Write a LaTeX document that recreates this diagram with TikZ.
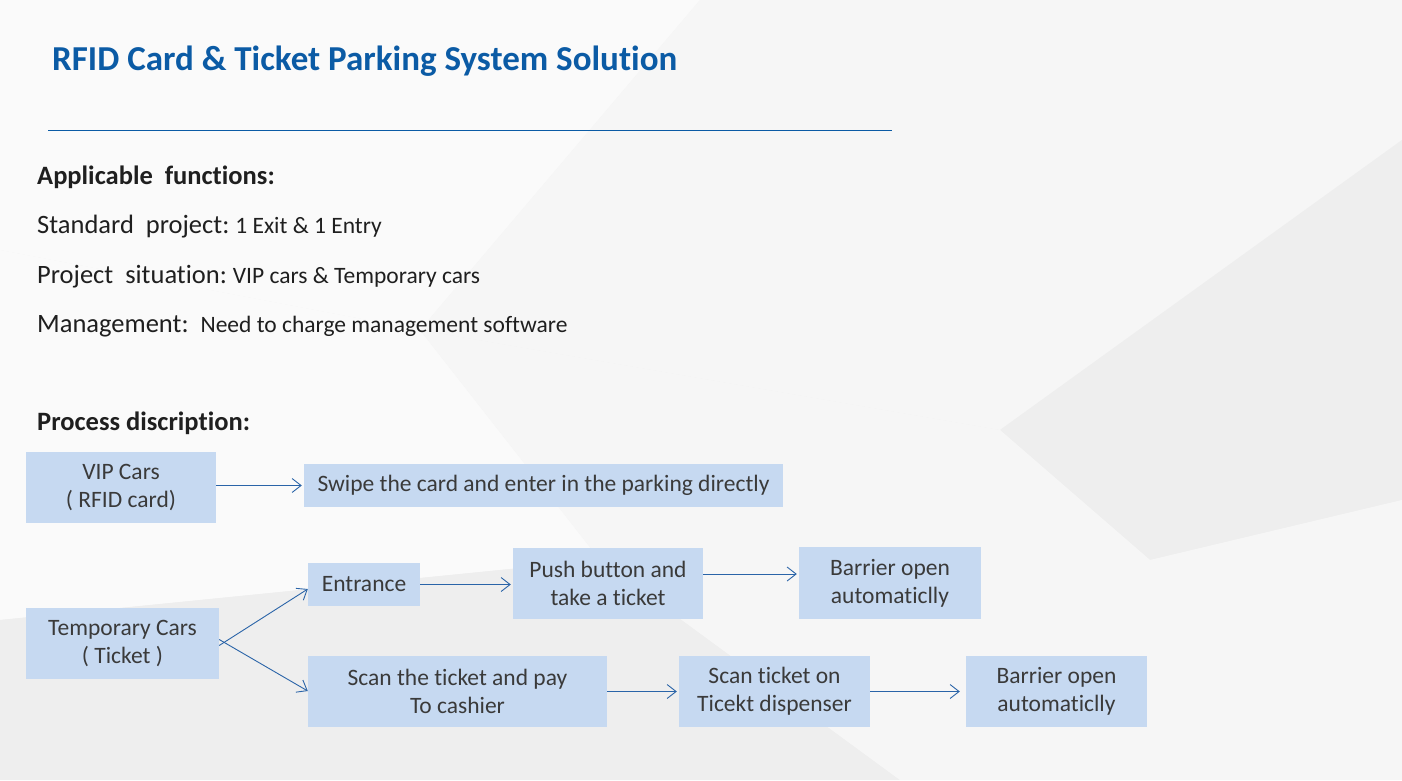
\documentclass[tikz,border=0pt]{standalone}
\usepackage{fontspec}
\setmainfont{Carlito}[Ligatures=NoCommon]
\usetikzlibrary{arrows.meta}
\definecolor{bg}{HTML}{F3F3F3}
\definecolor{facet}{HTML}{FAFAFA}
\definecolor{facetm}{HTML}{F6F6F6}
\definecolor{facetd}{HTML}{EEEEEE}
\definecolor{boxfill}{HTML}{C6D9F1}
\definecolor{txt}{HTML}{3A3A3A}
\definecolor{titleblue}{HTML}{0B5BA5}
\definecolor{arrowblue}{HTML}{2A64A8}
\tikzset{
  box/.style={fill=boxfill, draw=none, text=txt, align=center, inner sep=0pt,
    font=\fontsize{23.5}{28}\selectfont},
  flow/.style={draw=arrowblue, line width=0.9pt, -{Straight Barb[length=9pt,width=14pt,line width=0.9pt]}},
  label/.style={anchor=base west, inner sep=0pt, text=black!88},
}
\newcommand{\smalltxt}{\fontsize{23.5}{28}\selectfont}
\begin{document}
\begin{tikzpicture}[x=1pt,y=-1pt]
\useasboundingbox (0,0) rectangle (1402,780);
% background facets
\fill[bg] (0,0) rectangle (1402,780);
\fill[facet] (0,0) -- (700,0) -- (420,330) -- (0,250) -- cycle;
\fill[facetm] (700,0) -- (1402,0) -- (1402,140) -- (1000,430) -- (420,330) -- cycle;
\fill[facetd] (1402,140) -- (1402,500) -- (1150,560) -- (1000,430) -- cycle;
\fill[facet] (0,250) -- (420,330) -- (600,560) -- (0,620) -- cycle;
\fill[facetd] (0,620) -- (600,560) -- (900,780) -- (0,780) -- cycle;
\fill[facetm] (1000,430) -- (1150,560) -- (1402,500) -- (1402,780) -- (900,780) -- (600,560) -- (420,330) -- cycle;
% title
\node[anchor=base west, inner sep=0pt, text=titleblue, font=\fontsize{35}{40}\selectfont\bfseries] (title) at (52,70) {RFID Card \& Ticket Parking System Solution};
\coordinate (ruleL) at (48,130);
\coordinate (ruleR) at (892,130);
\draw[titleblue, line width=0.9pt] (ruleL) -- (ruleR);
% text block
\node[label, font=\fontsize{26.5}{30}\selectfont\bfseries] (app) at (37,184) {Applicable\ \ functions:};
\node[label, font=\fontsize{26.5}{30}\selectfont] (std) at (37,233) {Standard\ \ project:\ {\smalltxt 1 Exit \& 1 Entry}};
\node[label, font=\fontsize{26.5}{30}\selectfont] (sit) at (37,283) {Project\ \ situation:\ {\smalltxt VIP cars \& Temporary cars}};
\node[label, font=\fontsize{26.5}{30}\selectfont] (mgt) at (37,332) {Management:\ \ {\smalltxt Need to charge management software}};
\node[label, font=\fontsize{26.5}{30}\selectfont\bfseries] (proc) at (37,430) {Process discription:};
% boxes
\node[box, minimum width=190pt, minimum height=71pt] (vip) at (121,487.5) {VIP Cars\\( RFID card)};
\node[box, minimum width=479pt, minimum height=43pt] (swipe) at (543.5,485.5) {Swipe the card and enter in the parking directly};
\node[box, minimum width=193pt, minimum height=71pt] (temp) at (122.5,643.5) {Temporary Cars\\( Ticket )};
\node[box, minimum width=112pt, minimum height=43pt] (ent) at (364,584.5) {Entrance};
\node[box, minimum width=190pt, minimum height=71pt] (push) at (608,583.5) {Push button and\\take a ticket};
\node[box, minimum width=182pt, minimum height=72pt] (bar1) at (890,583) {Barrier open\\automaticlly};
\node[box, minimum width=299pt, minimum height=71pt] (pay) at (457.5,691.5) {Scan the ticket and pay\\To cashier};
\node[box, minimum width=191pt, minimum height=71pt] (scan) at (774.5,691.5) {Scan ticket on\\Ticekt dispenser};
\node[box, minimum width=181pt, minimum height=71pt] (bar2) at (1056.5,691.5) {Barrier open\\automaticlly};
% connectors
\draw[flow] (vip.east |- swipe.west) -- ([xshift=-2pt]swipe.west);
\draw[flow] (ent.east) -- ([xshift=-2pt]ent.east -| push.west);
\draw[flow] (push.east |- 0,574) -- ([xshift=-2pt]bar1.west |- 0,574);
\draw[flow] ([yshift=-2pt]temp.east) -- (ent.south west |- 0,589);
\draw[flow] ([yshift=4pt]temp.east) -- (pay.north west |- 0,691);
\draw[flow] (pay.east) -- ([xshift=-2pt]scan.west);
\draw[flow] (scan.east) -- ([xshift=-6pt]bar2.west);
\end{tikzpicture}
\end{document}
